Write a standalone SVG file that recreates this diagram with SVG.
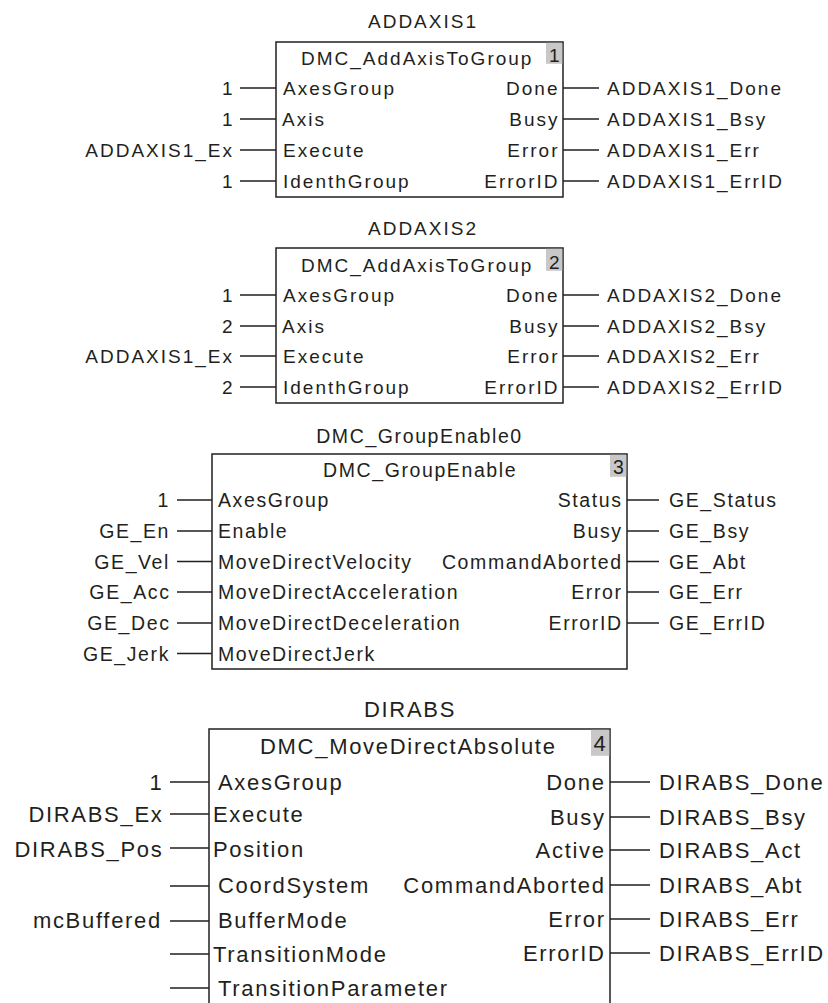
<svg xmlns="http://www.w3.org/2000/svg" width="828" height="1003" viewBox="0 0 828 1003">
<style>
text { font-family: "Liberation Sans", Arial, sans-serif; fill: #231f20; }
.a { font-size: 19px; letter-spacing: 2px; }
.b { font-size: 19.5px; letter-spacing: 1.6px; }
.c { font-size: 22px; letter-spacing: 1.7px; }
.e { text-anchor: end; }
.m { text-anchor: middle; }
.box { fill: #ffffff; stroke: #231f20; stroke-width: 1.5; }
.num { fill: #c8c8c8; stroke: none; }
.w { stroke: #231f20; stroke-width: 1.3; fill: none; }
</style>
<rect width="828" height="1003" fill="#ffffff"/>

<g id="connectors">
  <path class="w" d="M240,88H276M240,119H276M240,150H276M240,181H276M563,88H599M563,119H599M563,150H599M563,181H599"/>
  <path class="w" d="M240,295H276M240,326H276M240,356H276M240,387H276M563,295H599M563,326H599M563,356H599M563,387H599"/>
  <path class="w" d="M177,500H212M177,531H212M177,561.5H212M177,592H212M177,623H212M177,653.5H212M627,500H659M627,531H659M627,561.5H659M627,592H659M627,623H659"/>
  <path class="w" d="M170,782H209M170,814H209M170,848H209M170,886H209M170,921H209M170,954H209M170,988H209M610,782H650M610,817H650M610,850H650M610,885H650M610,919H650M610,953H650"/>
</g>

<g id="addaxis1">
  <text class="a m" x="423" y="28">ADDAXIS1</text>
  <rect class="box" x="276" y="42" width="287" height="155"/>
  <rect class="num" x="546" y="42.8" width="16.3" height="21"/>
  <text class="a" x="549" y="62">1</text>
  <text class="a" x="301" y="65">DMC_AddAxisToGroup</text>
  <text class="a" x="283" y="95">AxesGroup</text>
  <text class="a" x="282" y="126">Axis</text>
  <text class="a" x="283" y="157">Execute</text>
  <text class="a" x="283" y="188">IdenthGroup</text>
  <text class="a e" x="559.5" y="95">Done</text>
  <text class="a e" x="559.5" y="126">Busy</text>
  <text class="a e" x="559.5" y="157">Error</text>
  <text class="a e" x="559.5" y="188">ErrorID</text>
  <text class="a e" x="234.5" y="95">1</text>
  <text class="a e" x="234.5" y="126">1</text>
  <text class="a e" x="234" y="157">ADDAXIS1_Ex</text>
  <text class="a e" x="234.5" y="188">1</text>
  <text class="a" x="607" y="95">ADDAXIS1_Done</text>
  <text class="a" x="607" y="126">ADDAXIS1_Bsy</text>
  <text class="a" x="607" y="157">ADDAXIS1_Err</text>
  <text class="a" x="607" y="188">ADDAXIS1_ErrID</text>
</g>

<g id="addaxis2">
  <text class="a m" x="423" y="235">ADDAXIS2</text>
  <rect class="box" x="276" y="248" width="287" height="155"/>
  <rect class="num" x="546" y="248.8" width="16.3" height="22"/>
  <text class="a" x="549" y="269">2</text>
  <text class="a" x="301" y="272">DMC_AddAxisToGroup</text>
  <text class="a" x="283" y="302">AxesGroup</text>
  <text class="a" x="282" y="333">Axis</text>
  <text class="a" x="283" y="363">Execute</text>
  <text class="a" x="283" y="394">IdenthGroup</text>
  <text class="a e" x="559.5" y="302">Done</text>
  <text class="a e" x="559.5" y="333">Busy</text>
  <text class="a e" x="559.5" y="363">Error</text>
  <text class="a e" x="559.5" y="394">ErrorID</text>
  <text class="a e" x="234.5" y="302">1</text>
  <text class="a e" x="234.5" y="333">2</text>
  <text class="a e" x="234" y="363">ADDAXIS1_Ex</text>
  <text class="a e" x="234.5" y="394">2</text>
  <text class="a" x="607" y="302">ADDAXIS2_Done</text>
  <text class="a" x="607" y="333">ADDAXIS2_Bsy</text>
  <text class="a" x="607" y="363">ADDAXIS2_Err</text>
  <text class="a" x="607" y="394">ADDAXIS2_ErrID</text>
</g>

<g id="groupenable">
  <text class="b m" x="419.5" y="443">DMC_GroupEnable0</text>
  <rect class="box" x="212" y="454" width="415" height="215"/>
  <rect class="num" x="610" y="454.8" width="16.3" height="22"/>
  <text class="b" x="613" y="474">3</text>
  <text class="b" x="323" y="477">DMC_GroupEnable</text>
  <text class="b" x="218" y="507">AxesGroup</text>
  <text class="b" x="218" y="538">Enable</text>
  <text class="b" x="218" y="568.5">MoveDirectVelocity</text>
  <text class="b" x="218" y="599">MoveDirectAcceleration</text>
  <text class="b" x="218" y="630">MoveDirectDeceleration</text>
  <text class="b" x="218" y="660.5">MoveDirectJerk</text>
  <text class="b e" x="622.6" y="507">Status</text>
  <text class="b e" x="622.6" y="538">Busy</text>
  <text class="b e" x="622.6" y="568.5">CommandAborted</text>
  <text class="b e" x="622.6" y="599">Error</text>
  <text class="b e" x="622.6" y="630">ErrorID</text>
  <text class="b e" x="170" y="507">1</text>
  <text class="b e" x="170" y="538">GE_En</text>
  <text class="b e" x="170" y="568.5">GE_Vel</text>
  <text class="b e" x="170.5" y="599">GE_Acc</text>
  <text class="b e" x="170.5" y="630">GE_Dec</text>
  <text class="b e" x="170" y="660.5">GE_Jerk</text>
  <text class="b" x="669" y="507">GE_Status</text>
  <text class="b" x="669" y="538">GE_Bsy</text>
  <text class="b" x="669" y="568.5">GE_Abt</text>
  <text class="b" x="669" y="599">GE_Err</text>
  <text class="b" x="669" y="630">GE_ErrID</text>
</g>

<g id="dirabs">
  <text class="c m" x="410" y="717">DIRABS</text>
  <rect class="box" x="209" y="729" width="401" height="300"/>
  <rect class="num" x="591" y="729.8" width="18.3" height="26"/>
  <text class="c" x="593.5" y="751">4</text>
  <text class="c" x="260" y="754">DMC_MoveDirectAbsolute</text>
  <text class="c" x="218" y="789.5">AxesGroup</text>
  <text class="c" x="213" y="822">Execute</text>
  <text class="c" x="213" y="857">Position</text>
  <text class="c" x="218" y="893">CoordSystem</text>
  <text class="c" x="218" y="928">BufferMode</text>
  <text class="c" x="213" y="961.5">TransitionMode</text>
  <text class="c" x="218" y="996">TransitionParameter</text>
  <text class="c e" x="605.7" y="789.5">Done</text>
  <text class="c e" x="605.7" y="824.5">Busy</text>
  <text class="c e" x="605.7" y="857.5">Active</text>
  <text class="c e" x="605.7" y="892.5">CommandAborted</text>
  <text class="c e" x="605.7" y="926.5">Error</text>
  <text class="c e" x="605.7" y="960.5">ErrorID</text>
  <text class="c e" x="163.5" y="789.5">1</text>
  <text class="c e" x="163.5" y="822">DIRABS_Ex</text>
  <text class="c e" x="163.5" y="857">DIRABS_Pos</text>
  <text class="c e" x="162" y="928">mcBuffered</text>
  <text class="c" x="659" y="789.5">DIRABS_Done</text>
  <text class="c" x="659" y="824.5">DIRABS_Bsy</text>
  <text class="c" x="659" y="857.5">DIRABS_Act</text>
  <text class="c" x="659" y="892.5">DIRABS_Abt</text>
  <text class="c" x="659" y="926.5">DIRABS_Err</text>
  <text class="c" x="659" y="960.5">DIRABS_ErrID</text>
</g>
</svg>
